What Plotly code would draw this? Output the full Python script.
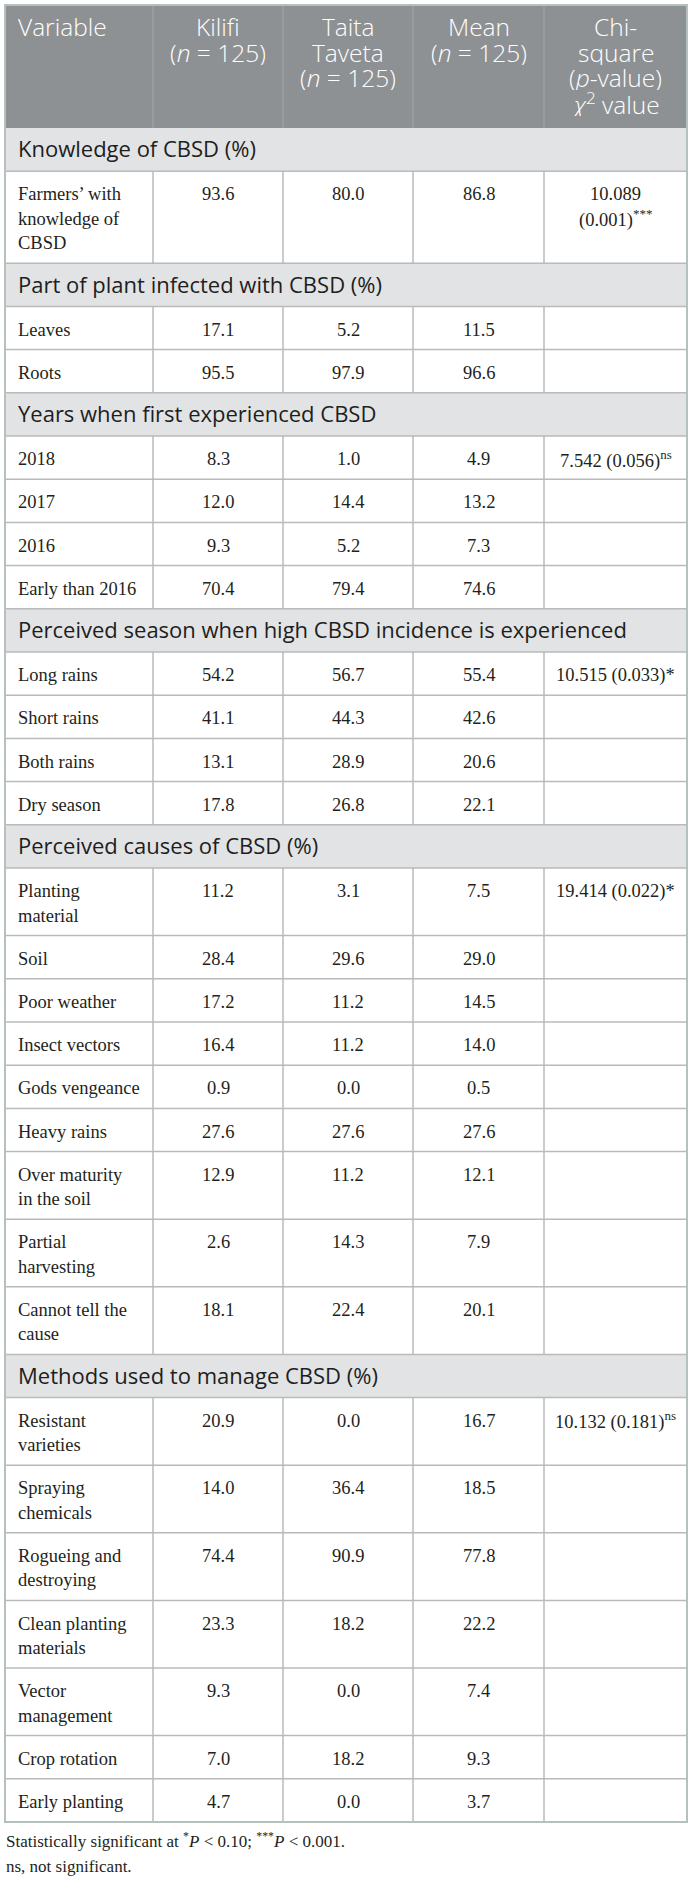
import plotly.graph_objects as go

# ---------------- data ----------------
headers = [
    "Variable",
    "Kilifi<br>(<i>n</i> = 125)",
    "Taita<br>Taveta<br>(<i>n</i> = 125)",
    "Mean<br>(<i>n</i> = 125)",
    "Chi-<br>square<br>(<i>p</i>-value)<br><i>χ</i><sup>2</sup> value",
]

sections = [
    "Knowledge of CBSD (%)",
    "Part of plant infected with CBSD (%)",
    "Years when first experienced CBSD",
    "Perceived season when high CBSD incidence is experienced",
    "Perceived causes of CBSD (%)",
    "Methods used to manage CBSD (%)",
]

variables = [
    "Farmers’ with<br>knowledge of<br>CBSD",
    "Leaves", "Roots",
    "2018", "2017", "2016", "Early than 2016",
    "Long rains", "Short rains", "Both rains", "Dry season",
    "Planting<br>material", "Soil", "Poor weather", "Insect vectors",
    "Gods vengeance", "Heavy rains", "Over maturity<br>in the soil",
    "Partial<br>harvesting", "Cannot tell the<br>cause",
    "Resistant<br>varieties", "Spraying<br>chemicals", "Rogueing and<br>destroying",
    "Clean planting<br>materials", "Vector<br>management", "Crop rotation",
    "Early planting",
]
group = [0, 1, 1, 2, 2, 2, 2, 3, 3, 3, 3,
         4, 4, 4, 4, 4, 4, 4, 4, 4,
         5, 5, 5, 5, 5, 5, 5]

kilifi = [93.6, 17.1, 95.5, 8.3, 12.0, 9.3, 70.4, 54.2, 41.1, 13.1, 17.8,
          11.2, 28.4, 17.2, 16.4, 0.9, 27.6, 12.9, 2.6, 18.1,
          20.9, 14.0, 74.4, 23.3, 9.3, 7.0, 4.7]
taita = [80.0, 5.2, 97.9, 1.0, 14.4, 5.2, 79.4, 56.7, 44.3, 28.9, 26.8,
         3.1, 29.6, 11.2, 11.2, 0.0, 27.6, 11.2, 14.3, 22.4,
         0.0, 36.4, 90.9, 18.2, 0.0, 18.2, 0.0]
mean = [86.8, 11.5, 96.6, 4.9, 13.2, 7.3, 74.6, 55.4, 42.6, 20.6, 22.1,
        7.5, 29.0, 14.5, 14.0, 0.5, 27.6, 12.1, 7.9, 20.1,
        16.7, 18.5, 77.8, 22.2, 7.4, 9.3, 3.7]
chi = ["10.089<br>(0.001)<sup>***</sup>", "", "",
       "7.542 (0.056)<sup>ns</sup>", "", "", "",
       "10.515 (0.033)*", "", "", "",
       "19.414 (0.022)*", "", "", "", "", "", "", "", "",
       "10.132 (0.181)<sup>ns</sup>", "", "", "", "", "", ""]

footnotes = [
    "Statistically significant at <sup>*</sup><i>P</i> < 0.10; <sup>***</sup><i>P</i> < 0.001.",
    "ns, not significant.",
]

# ---------------- layout helpers ----------------
W, H = 693, 1877
x_edges = [5, 153, 283, 413, 544, 687]
top = 5
header_h = 123
section_h = 43.2
SANS = "Open Sans"
SERIF = "Liberation Serif"
head_size, sec_size, serif_size = 24.5, 22, 18.5

shapes = []
annotations = []


def hline(y, x0=x_edges[0], x1=x_edges[-1], color="#b9babb", width=1.5):
    shapes.append(dict(type="line", xref="x", yref="y", x0=x0, x1=x1, y0=y, y1=y,
                       line=dict(color=color, width=width)))


def vline(x, y0, y1, color="#b9babb", width=1.5):
    shapes.append(dict(type="line", xref="x", yref="y", x0=x, x1=x, y0=y0, y1=y1,
                       line=dict(color=color, width=width)))


def rect(y0, y1, fill):
    shapes.append(dict(type="rect", xref="x", yref="y", x0=x_edges[0], x1=x_edges[-1],
                       y0=y0, y1=y1, fillcolor=fill, line=dict(width=0), layer="below"))


def label(x, baseline, s, family, size, color, anchor="center", weight=None, box=None):
    # shift from baseline to the middle of the text box
    k = 0.388 if family == SANS else 0.3375
    font = dict(family=family, size=size, color=color)
    if weight:
        font["weight"] = weight
    a = dict(x=x, y=baseline - k * size, xref="x", yref="y", text=s,
             showarrow=False, xanchor=anchor, yanchor="middle",
             borderpad=0, font=font)
    if box:
        a["height"] = box
    annotations.append(a)


def centre(i):
    return (x_edges[i] + x_edges[i + 1]) / 2


# header
rect(top, top + header_h, "#8e9193")
for i, h in enumerate(headers):
    for j, part in enumerate(h.split("<br>")):
        x, anchor = (17, "left") if i == 0 else (centre(i), "center")
        label(x, 36 + 25.7 * j, part, SANS, head_size, "white", anchor,
              weight=300, box=25)
for x in x_edges[1:-1]:
    vline(x, top, top + header_h, color="#a4a7a9", width=1)

# body
y = top + header_h
for g, sec in enumerate(sections):
    rect(y, y + section_h, "#e2e3e4")
    label(17, y + 29, sec, SANS, sec_size, "#1e1e1e", "left")
    y += section_h
    hline(y)
    for r in [k for k in range(len(variables)) if group[k] == g]:
        n = max(variables[r].count("<br>"), chi[r].count("<br>")) + 1
        h = 18.8 + 24.4 * n
        base = y + 29.5
        for j, part in enumerate(variables[r].split("<br>")):
            label(17, base + 24.4 * j, part, SERIF, serif_size, "#231f20", "left")
        for c, vals in enumerate([kilifi, taita, mean], start=1):
            label(centre(c), base, f"{vals[r]:.1f}", SERIF, serif_size, "#231f20")
        for j, part in enumerate(chi[r].split("<br>")):
            if part:
                label(centre(4), base + 24.4 * j, part, SERIF, serif_size, "#231f20")
        for x in x_edges[1:-1]:
            vline(x, y, y + h)
        y += h
        hline(y)

# outer frame
shapes.append(dict(type="rect", xref="x", yref="y", x0=x_edges[0], x1=x_edges[-1],
                   y0=top, y1=y, line=dict(color="#b5c1bf", width=2)))

# footnotes
for j, f in enumerate(footnotes):
    label(5, y + 24 + 26 * j, f, SERIF, 17, "#231f20", "left")

fig = go.Figure()
fig.update_layout(
    width=W, height=H,
    margin=dict(l=0, r=0, t=0, b=0),
    paper_bgcolor="white", plot_bgcolor="white",
    xaxis=dict(range=[0, W], visible=False, fixedrange=True),
    yaxis=dict(range=[H, 0], visible=False, fixedrange=True),
    shapes=shapes, annotations=annotations, showlegend=False,
)

fig.write_html("out.html", config={"displayModeBar": False},
               post_script="document.body.style.margin='0';")
